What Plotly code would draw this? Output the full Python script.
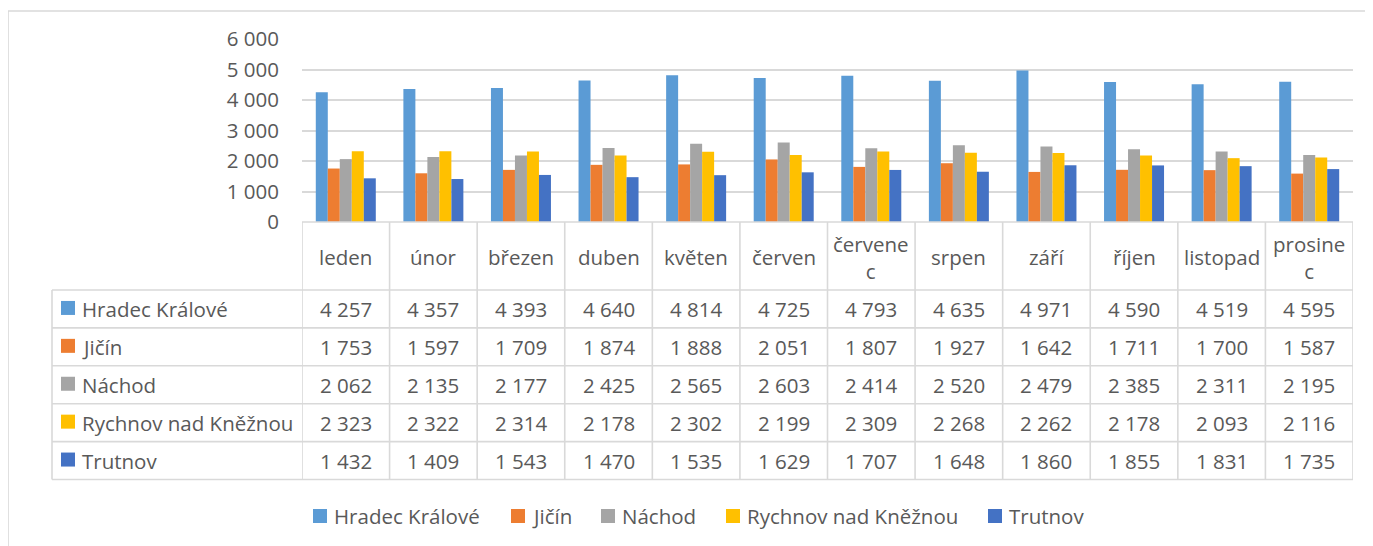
import plotly.graph_objects as go

months = ["leden", "únor", "březen", "duben", "květen", "červen",
          "červenec", "srpen", "září", "říjen", "listopad", "prosinec"]
month_labels = ["leden", "únor", "březen", "duben", "květen", "červen",
                "červene<br>c", "srpen", "září", "říjen", "listopad", "prosine<br>c"]

series_names = ["Hradec Králové", "Jičín", "Náchod", "Rychnov nad Kněžnou", "Trutnov"]
hradec = [4257, 4357, 4393, 4640, 4814, 4725, 4793, 4635, 4971, 4590, 4519, 4595]
jicin = [1753, 1597, 1709, 1874, 1888, 2051, 1807, 1927, 1642, 1711, 1700, 1587]
nachod = [2062, 2135, 2177, 2425, 2565, 2603, 2414, 2520, 2479, 2385, 2311, 2195]
rychnov = [2323, 2322, 2314, 2178, 2302, 2199, 2309, 2268, 2262, 2178, 2093, 2116]
trutnov = [1432, 1409, 1543, 1470, 1535, 1629, 1707, 1648, 1860, 1855, 1831, 1735]
y_ticks = [0, 1000, 2000, 3000, 4000, 5000, 6000]

series_values = [hradec, jicin, nachod, rychnov, trutnov]
colors = ["#5B9BD5", "#ED7D31", "#A5A5A5", "#FFC000", "#4472C4"]

# page body has an 8px margin; work in screen pixels and convert
OFF = 8
W, H = 1373 - OFF, 546 - OFF
PLOT_L, PLOT_R, PLOT_T, PLOT_B = 302, 1353, 39, 222  # screen px
L = PLOT_L - OFF
T = PLOT_T - OFF
R = W - (PLOT_R - OFF)
B = H - (PLOT_B - OFF)
PW = PLOT_R - PLOT_L
PH = PLOT_B - PLOT_T
FONT = "Open Sans"
FS = 20.5
TXT = "#595959"
GRID = "#D9D9D9"


def px(x):  # screen x -> paper
    return (x - PLOT_L) / PW


def py(y):  # screen y -> paper
    return (PLOT_B - y) / PH


fig = go.Figure()
idx = list(range(len(months)))
for name, vals, col in zip(series_names, series_values, colors):
    fig.add_trace(go.Bar(x=idx, y=vals, name=name, marker=dict(color=col, line=dict(width=0)),
                         hovertext=months, showlegend=False))

shapes = []
annotations = []

head_bot = 290
row_h = 37.9
table_bot = head_bot + row_h * 5
LW = 1.6

# outer chart border (top and left)
shapes.append(dict(type="line", xref="paper", yref="paper", x0=px(8), x1=px(1373), y0=py(11), y1=py(11),
                   line=dict(color=GRID, width=LW)))
shapes.append(dict(type="line", xref="paper", yref="paper", x0=px(8), x1=px(8), y0=py(11), y1=py(546),
                   line=dict(color=GRID, width=LW)))

# table top (axis line) and header bottom / row lines
shapes.append(dict(type="line", xref="paper", yref="paper", x0=0, x1=1, y0=0, y1=0,
                   line=dict(color=GRID, width=LW)))
for k in range(6):
    yy = py(head_bot + row_h * k)
    shapes.append(dict(type="line", xref="paper", yref="paper", x0=px(52), x1=1, y0=yy, y1=yy,
                       line=dict(color=GRID, width=LW)))
shapes.append(dict(type="line", xref="paper", yref="paper", x0=px(52), x1=px(52),
                   y0=py(head_bot), y1=py(table_bot), line=dict(color=GRID, width=LW)))
for i in range(len(months) + 1):
    shapes.append(dict(type="line", xref="x", yref="paper", x0=i - 0.5, x1=i - 0.5,
                       y0=0, y1=py(table_bot), line=dict(color=GRID, width=LW)))

# header month labels
for i, lab in enumerate(month_labels):
    annotations.append(dict(x=i, y=py(257), xref="x", yref="paper", text=lab,
                            showarrow=False, font=dict(family=FONT, size=FS, color=TXT),
                            xanchor="center", yanchor="middle"))

# table rows
for r, (name, vals, col) in enumerate(zip(series_names, series_values, colors)):
    yc = head_bot + row_h * (r + 0.5)
    shapes.append(dict(type="rect", xref="paper", yref="paper", x0=px(61), x1=px(75),
                       y0=py(yc - 8), y1=py(yc + 6), fillcolor=col, line=dict(width=0)))
    annotations.append(dict(x=px(80), y=py(yc), xref="paper", yref="paper", text=name,
                            showarrow=False, font=dict(family=FONT, size=FS, color=TXT),
                            xanchor="left", yanchor="middle"))
    for i, v in enumerate(vals):
        annotations.append(dict(x=i, y=py(yc), xref="x", yref="paper",
                                text=f"{v:,}".replace(",", " "),
                                showarrow=False, font=dict(family=FONT, size=FS, color=TXT),
                                xanchor="center", yanchor="middle"))

# bottom legend
legend_key_x = [313, 511, 601, 726, 988]
legend_y = 516
for name, col, kx in zip(series_names, colors, legend_key_x):
    shapes.append(dict(type="rect", xref="paper", yref="paper", x0=px(kx), x1=px(kx + 14),
                       y0=py(legend_y - 7), y1=py(legend_y + 7), fillcolor=col, line=dict(width=0)))
    annotations.append(dict(x=px(kx + 19), y=py(legend_y), xref="paper", yref="paper", text=name,
                            showarrow=False, font=dict(family=FONT, size=FS, color=TXT),
                            xanchor="left", yanchor="middle"))

fig.update_layout(
    width=W, height=H,
    margin=dict(l=L, r=R, t=T, b=B, autoexpand=False),
    paper_bgcolor="white", plot_bgcolor="white",
    barmode="group", bargap=0.315, bargroupgap=0,
    separators=", ",
    showlegend=False,
    font=dict(family=FONT, size=FS, color=TXT),
    xaxis=dict(range=[-0.5, len(months) - 0.5], showticklabels=False, showgrid=False,
               zeroline=False, showline=False, ticks=""),
    yaxis=dict(range=[0, 6000], tickvals=y_ticks, tickformat=",d", showgrid=True,
               gridcolor=GRID, gridwidth=LW, zeroline=False, showline=False,
               ticks="", ticklabelstandoff=22, tickfont=dict(family=FONT, size=FS, color=TXT)),
    shapes=shapes, annotations=annotations,
)

fig.write_html("out.html")
